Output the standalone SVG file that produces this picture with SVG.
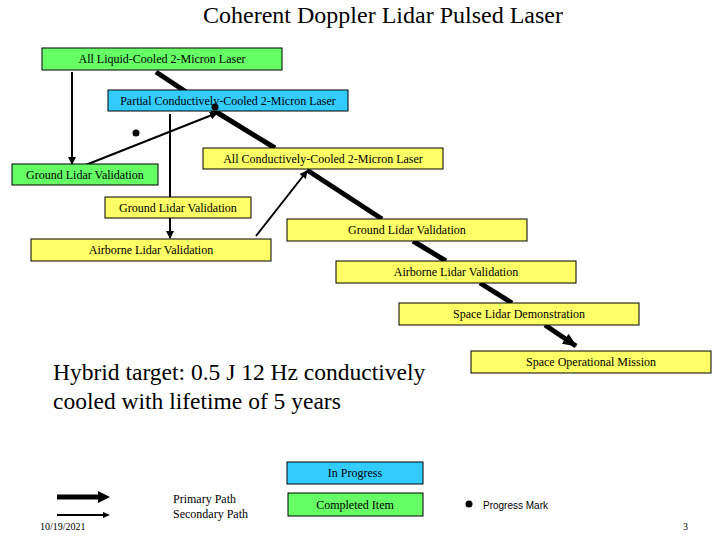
<svg xmlns="http://www.w3.org/2000/svg" width="720" height="540" viewBox="0 0 720 540">
<style>
.b{stroke:#000;stroke-width:1}
.g{fill:#66ff66}.c{fill:#33ccff}.y{fill:#ffff66}
.t{font-size:12px;text-anchor:middle}
.p{stroke:#000;stroke-width:5;fill:none}
.s{stroke:#000;stroke-width:2;fill:none}
</style>
<defs>
<marker id="ah" markerWidth="8" markerHeight="8" refX="7" refY="4" orient="auto" markerUnits="userSpaceOnUse"><path d="M0,0 L8,4 L0,8 z"/></marker>
<marker id="ahb" markerWidth="14" markerHeight="12" refX="13" refY="6" orient="auto" markerUnits="userSpaceOnUse"><path d="M0,0 L14,6 L0,12 z"/></marker>
</defs>
<g font-family="Liberation Serif, Times New Roman, serif">
<text x="383" y="23" font-size="24" text-anchor="middle">Coherent Doppler Lidar Pulsed Laser</text>
<g id="connectors">
<path class="p" d="M156,72 L218,113 M218,113 L275,148 M307,170 L382,219 M413,241 L446,261 M480,283 L512,303"/>
<path class="p" d="M545,325 L576,346" marker-end="url(#ahb)"/>
<path class="s" d="M72,72 L72,164" marker-end="url(#ah)"/>
<path class="s" d="M73,170 L217,113" marker-end="url(#ah)"/>
<path class="s" d="M170,114 L170,197"/>
<path class="s" d="M170,218 L170,238" marker-end="url(#ah)"/>
<path class="s" d="M256,236 L307,171" marker-end="url(#ah)"/>
</g>
<g id="n1"><rect class="b g" x="42" y="48" width="240" height="22"/><text class="t" x="162" y="63">All Liquid-Cooled 2-Micron Laser</text></g>
<g id="n2"><rect class="b c" x="108" y="90" width="240" height="21"/><text class="t" x="228" y="105">Partial Conductively-Cooled 2-Micron Laser</text></g>
<g id="n3"><rect class="b y" x="203" y="148" width="240" height="21"/><text class="t" x="323" y="163">All Conductively-Cooled 2-Micron Laser</text></g>
<g id="n4"><rect class="b g" x="12" y="164" width="146" height="21"/><text class="t" x="85" y="179">Ground Lidar Validation</text></g>
<g id="n5"><rect class="b y" x="105" y="197" width="146" height="21"/><text class="t" x="178" y="212">Ground Lidar Validation</text></g>
<g id="n6"><rect class="b y" x="31" y="239" width="240" height="22"/><text class="t" x="151" y="254">Airborne Lidar Validation</text></g>
<g id="n7"><rect class="b y" x="287" y="219" width="240" height="22"/><text class="t" x="407" y="234">Ground Lidar Validation</text></g>
<g id="n8"><rect class="b y" x="336" y="261" width="240" height="22"/><text class="t" x="456" y="276">Airborne Lidar Validation</text></g>
<g id="n9"><rect class="b y" x="399" y="303" width="240" height="22"/><text class="t" x="519" y="318">Space Lidar Demonstration</text></g>
<g id="n10"><rect class="b y" x="471" y="351" width="240" height="22"/><text class="t" x="591" y="366">Space Operational Mission</text></g>
<circle cx="136" cy="133" r="3.5"/>
<circle cx="215" cy="107" r="3.5"/>
<text x="53" y="380" font-size="23.5">Hybrid target: 0.5 J 12 Hz conductively</text>
<text x="53" y="409" font-size="23.5">cooled with lifetime of 5 years</text>
<g id="legend">
<rect class="b c" x="287" y="462" width="136" height="22"/><text class="t" x="355" y="477">In Progress</text>
<rect class="b g" x="288" y="493" width="135" height="23"/><text class="t" x="355" y="509">Completed Item</text>
<path class="p" d="M57,497 L100,497"/><path d="M98,491 L110,497 L98,503z"/>
<path class="s" d="M57,515 L104,515"/><path d="M103,512 L110,515 L103,518z"/>
<text x="173" y="503" font-size="12">Primary Path</text>
<text x="173" y="518" font-size="12">Secondary Path</text>
<circle cx="469" cy="504" r="3.5"/>
<text x="483" y="509" font-size="10" font-family="Liberation Sans, Arial, sans-serif">Progress Mark</text>
</g>
<text x="40" y="530" font-size="10">10/19/2021</text>
<text x="683" y="530" font-size="10">3</text>
</g>
</svg>
